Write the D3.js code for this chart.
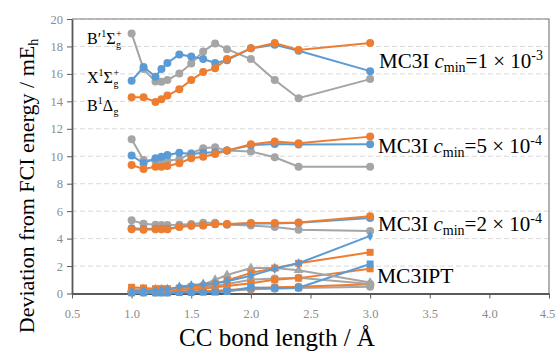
<!DOCTYPE html>
<html><head><meta charset="utf-8">
<script src="https://cdn.jsdelivr.net/npm/d3@7"></script>
<style>body{margin:0;background:#fff}svg{display:block}svg text{font-family:"Liberation Serif",serif}</style>
</head><body><svg id="c" width="556" height="352"></svg>
<script>
// ---- data ----
const bondLengths = [1.0,1.1,1.2,1.25,1.3,1.4,1.5,1.6,1.7,1.8,2.0,2.2,2.4,3.0];
const xTicks = [0.5,1.0,1.5,2.0,2.5,3.0,3.5,4.0,4.5];
const yTicks = [0,2,4,6,8,10,12,14,16,18,20];
// MC3I cmin=1e-3
const c1e3_Bp = [18.95,16.35,15.45,15.42,15.55,16.03,16.76,17.64,18.22,17.8,17.08,15.55,14.23,15.62];
const c1e3_X  = [15.5,16.5,15.8,16.35,16.8,17.42,17.27,17.08,16.8,17.0,17.86,18.12,17.69,16.2];
const c1e3_B  = [14.3,14.3,13.96,14.16,14.42,14.89,15.55,16.13,16.42,17.08,17.86,18.25,17.74,18.25];
// MC3I cmin=5e-4
const c5e4_Bp = [11.24,9.73,9.68,9.68,9.68,9.78,10.22,10.58,10.66,10.41,10.34,9.93,9.24,9.24];
const c5e4_X  = [10.05,9.49,9.85,9.97,10.09,10.26,10.17,10.26,10.3,10.41,10.8,10.9,10.85,10.87];
const c5e4_B  = [9.36,9.07,9.24,9.24,9.29,9.49,9.85,9.97,10.17,10.41,10.87,11.07,10.95,11.43];
// MC3I cmin=2e-4
const c2e4_Bp = [5.33,5.08,5.01,5.0,5.0,5.01,5.06,5.16,5.16,5.01,4.96,4.84,4.64,4.55];
const c2e4_X  = [4.75,4.7,4.72,4.72,4.72,4.86,4.95,4.98,5.05,5.05,5.1,5.1,5.15,5.5];
const c2e4_B  = [4.69,4.64,4.69,4.69,4.69,4.84,4.93,4.96,5.06,5.06,5.13,5.13,5.18,5.62];
// MC3IPT
const pt_X1  = [0.15,0.2,0.2,0.25,0.3,0.5,0.6,0.7,0.75,0.9,1.3,1.8,2.2,4.2];
const pt_B1  = [0.45,0.4,0.35,0.35,0.35,0.4,0.5,0.55,0.7,0.95,1.5,1.85,2.2,3.0];
const pt_Bp1 = [0.3,0.3,0.3,0.3,0.3,0.4,0.5,0.65,1.0,1.35,1.85,1.85,1.7,0.8];
const pt_Bp2 = [0.25,0.25,0.25,0.25,0.25,0.3,0.35,0.45,0.55,0.7,1.0,1.1,1.15,0.7];
const pt_B2  = [0.2,0.2,0.2,0.2,0.2,0.25,0.3,0.35,0.45,0.55,0.75,1.0,1.12,1.8];
const pt_X2  = [0.05,0.05,0.05,0.05,0.05,0.08,0.08,0.1,0.1,0.15,0.45,0.4,0.42,2.15];
const pt_B3  = [0.1,0.1,0.1,0.1,0.1,0.12,0.15,0.18,0.2,0.25,0.35,0.45,0.5,0.68];
const pt_Bp3 = [0.08,0.08,0.08,0.08,0.08,0.1,0.12,0.15,0.18,0.2,0.3,0.35,0.4,0.5];

// ---- styles ----
const BLUE="#5B9BD5", ORANGE="#ED7D31", GRAY="#A5A5A5";
const series = [
  {v:c1e3_Bp,c:GRAY,m:"circle"},{v:c1e3_X,c:BLUE,m:"circle"},{v:c1e3_B,c:ORANGE,m:"circle"},
  {v:c5e4_Bp,c:GRAY,m:"circle"},{v:c5e4_X,c:BLUE,m:"circle"},{v:c5e4_B,c:ORANGE,m:"circle"},
  {v:c2e4_Bp,c:GRAY,m:"circle"},{v:c2e4_X,c:BLUE,m:"circle"},{v:c2e4_B,c:ORANGE,m:"circle"},
  {v:pt_Bp3,c:GRAY,m:"circle"},{v:pt_B3,c:ORANGE,m:"circle"},
  {v:pt_Bp2,c:GRAY,m:"circle"},{v:pt_B2,c:ORANGE,m:"square"},{v:pt_X2,c:BLUE,m:"square"},
  {v:pt_Bp1,c:GRAY,m:"triangle"},{v:pt_B1,c:ORANGE,m:"square"},{v:pt_X1,c:BLUE,m:"diamond"}
];

const svg = d3.select("#c");
const L=72, R=549, T=19, B=293.5;
const x = d3.scaleLinear().domain([0.5,4.5]).range([L,R]);
const y = d3.scaleLinear().domain([0,20]).range([B,T]);

// grid
svg.append("g").selectAll("line").data(yTicks.filter(d=>d>0)).join("line")
  .attr("x1",L).attr("x2",R).attr("y1",d=>y(d)).attr("y2",d=>y(d))
  .attr("stroke","#D9D9D9").attr("stroke-width",1).attr("stroke-dasharray","5,3");
// frame top/right
svg.append("path").attr("d",`M${L},${T}H${R}V${B}`).attr("fill","none").attr("stroke","#7F7F7F").attr("stroke-width",1.2);

// axes
const xAxis = svg.append("g").attr("transform",`translate(0,${B})`)
  .call(d3.axisBottom(x).tickValues(xTicks).tickFormat(d3.format(".1f")).tickSize(5).tickSizeOuter(0));
const yAxis = svg.append("g").attr("transform",`translate(${L},0)`)
  .call(d3.axisLeft(y).tickValues(yTicks).tickFormat(d3.format("d")).tickSize(5).tickSizeOuter(0));
[xAxis,yAxis].forEach(g=>{
  g.select(".domain").attr("stroke","#595959").attr("stroke-width",1.8);
  g.selectAll(".tick line").attr("stroke","#595959").attr("stroke-width",1);
  g.selectAll("text").attr("fill","#8C8C8C").style("font-size","12.5px");
});
xAxis.selectAll("text").attr("dy","1.3em");
xAxis.selectAll("text").filter(d=>d===4.5).attr("dx",-2);
yAxis.selectAll("text").attr("x",-9);

// series
const line = d3.line().x((d,i)=>x(bondLengths[i])).y(d=>y(d));
const pts = svg.append("g");
series.forEach(s=>{
  pts.append("path").attr("d",line(s.v)).attr("fill","none").attr("stroke",s.c).attr("stroke-width",2);
  const g = pts.append("g");
  s.v.forEach((v,i)=>{
    const cx=x(bondLengths[i]), cy=y(v);
    if(s.m==="circle") g.append("circle").attr("cx",cx).attr("cy",cy).attr("r",4).attr("fill",s.c);
    else if(s.m==="square") g.append("rect").attr("x",cx-3.5).attr("y",cy-3.5).attr("width",7).attr("height",7).attr("fill",s.c);
    else if(s.m==="triangle") g.append("path").attr("d",d3.symbol(d3.symbolTriangle,40)()).attr("transform",`translate(${cx},${cy})`).attr("fill",s.c);
    else g.append("path").attr("d",d3.symbol(d3.symbolDiamond,30)()).attr("transform",`translate(${cx},${cy})`).attr("fill",s.c);
  });
});

// state labels
function sl(xp,yp,main1,sup,main2,sub,supR){
  const t=svg.append("text").attr("x",xp).attr("y",yp).style("font-size","16px").attr("fill","#000");
  t.append("tspan").text(main1);
  t.append("tspan").text(sup).style("font-size","10px").attr("dy",-7);
  t.append("tspan").text(main2).attr("dy",7);
  const sx = t.node().getComputedTextLength();
  const t2=svg.append("text").style("font-size","10px").attr("fill","#000");
  t2.append("tspan").attr("x",xp+sx+0.5).attr("y",yp+4).text(sub);
  if(supR) t2.append("tspan").attr("x",xp+sx+0.5).attr("y",yp-7).text(supR);
}
sl(87,44,"B′","1","Σ","g","+");
sl(87,83,"X","1","Σ","g","+");
sl(87,111,"B","1","Δ","g",null);

// right labels
function mcLabel(xp,yp,num,exp){
  const t=svg.append("text").attr("x",xp).attr("y",yp).style("font-size","21px").attr("fill","#000");
  t.append("tspan").text("MC3I ");
  t.append("tspan").text("c").style("font-style","italic");
  t.append("tspan").text("min").style("font-size","14px").attr("dy",4);
  t.append("tspan").text("=" + num + " × 10").attr("dy",-4);
  t.append("tspan").text(exp).style("font-size","14px").attr("dy",-8);
}
mcLabel(379,68,"1","-3");
mcLabel(378,153,"5","-4");
mcLabel(378,231,"2","-4");
svg.append("text").attr("x",377).attr("y",283).style("font-size","21.5px").text("MC3IPT");

// axis titles
svg.append("text").attr("x",277).attr("y",345.5).attr("text-anchor","middle").style("font-size","25px").text("CC bond length / Å");
const yt=svg.append("text").attr("transform","translate(34,186) rotate(-90)").attr("text-anchor","middle").style("font-size","22px");
yt.append("tspan").text("Deviation from FCI energy / mE");
yt.append("tspan").text("h").style("font-size","14px").attr("dy",4);
</script></body></html>
